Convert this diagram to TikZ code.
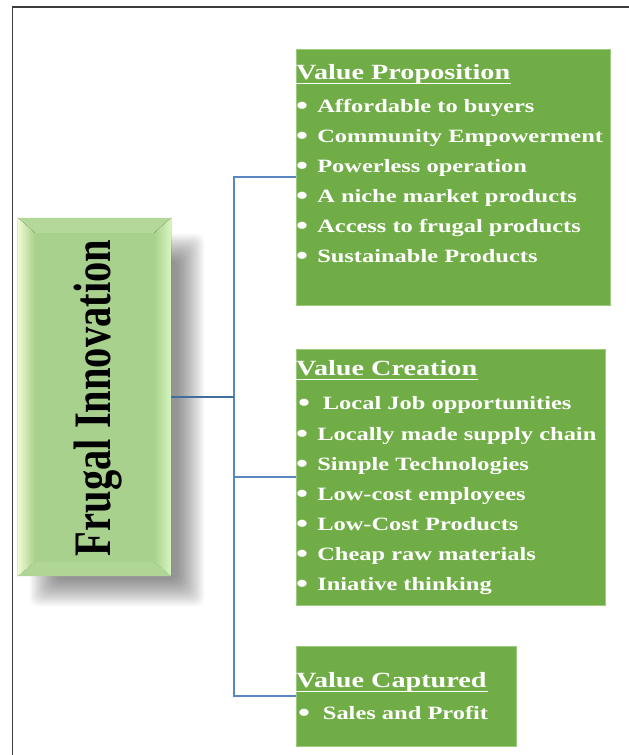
\documentclass[tikz,border=0pt]{standalone}
\usepackage{fontspec}
\setmainfont{Liberation Serif}
\usepackage{graphicx}
\usetikzlibrary{calc}
\definecolor{boxgreen}{HTML}{70AD47}
\definecolor{boxedge}{HTML}{9DCB7E}
\definecolor{maingreen}{HTML}{A9D18E}
\definecolor{topbevel}{HTML}{B3D89A}
\definecolor{paleleft}{HTML}{F0FBD2}
\definecolor{paleright}{HTML}{D8F6C0}
\definecolor{connblue}{HTML}{5B87C0}
\definecolor{conndark}{HTML}{3F6E9F}
\definecolor{framecol}{HTML}{3C3C3C}
\newcommand{\wtxt}[1]{\scalebox{1.3}[1]{#1}}
\newcommand{\bigbullet}{\raisebox{-2.4pt}{\scalebox{1.4}{\textbullet}}}
\newcommand{\bul}[1]{\bigbullet\hskip 7pt #1}
\newcommand{\bulw}[1]{\bigbullet\hskip 9.8pt #1}
\begin{document}
\begin{tikzpicture}[x=1pt,y=-1pt,
  greenbox/.style={draw=boxedge, line width=0.8pt, fill=boxgreen, rectangle, inner sep=0pt},
  titletxt/.style={anchor=base west, inner sep=0pt, text=white, font=\fontsize{21.7}{23}\selectfont\bfseries},
  itemtxt/.style={anchor=base west, inner sep=0pt, text=white, font=\fontsize{18.8}{20}\selectfont\bfseries},
  ul/.style={white, line width=1.6pt},
  conn/.style={connblue, line width=1.1pt},
  mainconn/.style={conndark, line width=1.4pt},
  shadowlayer/.style={fill=black, opacity=0.035, rounded corners=8pt}]
\useasboundingbox (0,0) rectangle (629,755);
\fill[white] (0,0) rectangle (629,755);
% frame lines
\draw[framecol, line width=1.5pt] (12.5,755) -- (12.5,7) -- (629,7);

% soft shadow of the main box
\foreach \i in {0,...,13} {
  \fill[shadowlayer] ({30+2*\i},{234+2*\i}) rectangle ({204-2*\i},{606-2*\i});
}

% main box
\node[rectangle, fill=maingreen, minimum width=153pt, minimum height=358pt, inner sep=0pt]
      (fi) at (94.5,397) {};
\coordinate (ia) at ($(fi.north west)+(17,15)$);
\coordinate (ib) at ($(fi.north east)+(-17,15)$);
\coordinate (ic) at ($(fi.south east)+(-17,-14)$);
\coordinate (id) at ($(fi.south west)+(17,-14)$);
\fill[topbevel] (fi.north west) -- (fi.north east) -- (ib) -- (ia) -- cycle;
\fill[left color=paleleft, right color=maingreen] (fi.north west) -- (ia) -- (id) -- (fi.south west) -- cycle;
\fill[left color=maingreen, right color=paleright] (fi.north east) -- (ib) -- (ic) -- (fi.south east) -- cycle;
\fill[topbevel!70!maingreen] (fi.south west) -- (id) -- (ic) -- (fi.south east) -- cycle;
\node[rotate=90, anchor=base, inner sep=0pt, text=black, font=\fontsize{40.5}{42}\selectfont\bfseries]
      (fit) at (110,398) {\scalebox{1}[1.3]{Frugal Innovation}};

% right boxes
\node[greenbox, minimum width=314pt, minimum height=256pt] (vp) at (453,177) {};
\node[greenbox, minimum width=309pt, minimum height=256pt] (vc) at (450.5,477) {};
\node[greenbox, minimum width=220pt, minimum height=100pt] (vcap) at (406,696) {};

% connectors
\coordinate (j) at (234,397);
\draw[conn] (vp.west) -- (vp.west -| j) -- (vcap.west -| j) -- (vcap.west);
\draw[conn] (vc.west) -- (vc.west -| j);
\draw[mainconn] (fi.east) -- (j);

% Value Proposition
\node[titletxt] (vpT) at (296,79) {\wtxt{Value Proposition}};
\draw[ul] ([yshift=-4.5pt]vpT.base west) -- ([yshift=-4.5pt,xshift=1pt]vpT.base east);
\node[itemtxt] (vp1) at (296,112) {\wtxt{\bul{Affordable to buyers}}};
\node[itemtxt] (vp2) at (296,142) {\wtxt{\bul{Community Empowerment}}};
\node[itemtxt] (vp3) at (296,172) {\wtxt{\bul{Powerless operation}}};
\node[itemtxt] (vp4) at (296,202) {\wtxt{\bul{A niche market products}}};
\node[itemtxt] (vp5) at (296,232) {\wtxt{\bul{Access to frugal products}}};
\node[itemtxt] (vp6) at (296,262) {\wtxt{\bul{Sustainable Products}}};

% Value Creation
\node[titletxt] (vcT) at (296,375) {\wtxt{Value Creation}};
\draw[ul] ([yshift=-4.5pt]vcT.base west) -- ([yshift=-4.5pt,xshift=1pt]vcT.base east);
\node[itemtxt] (vc1) at (298,409) {\wtxt{\bulw{Local Job opportunities}}};
\node[itemtxt] (vc2) at (296,440) {\wtxt{\bul{Locally made supply chain}}};
\node[itemtxt] (vc3) at (296,470) {\wtxt{\bul{Simple Technologies}}};
\node[itemtxt] (vc4) at (296,500) {\wtxt{\bul{Low-cost employees}}};
\node[itemtxt] (vc5) at (296,530) {\wtxt{\bul{Low-Cost Products}}};
\node[itemtxt] (vc6) at (296,560) {\wtxt{\bul{Cheap raw materials}}};
\node[itemtxt] (vc7) at (296,590) {\wtxt{\bul{Iniative thinking}}};

% Value Captured
\node[titletxt] (vcapT) at (296,687) {\wtxt{Value Captured}};
\draw[ul] ([yshift=-4.5pt]vcapT.base west) -- ([yshift=-4.5pt,xshift=1pt]vcapT.base east);
\node[itemtxt] (vcap1) at (298,719) {\wtxt{\bulw{Sales and Profit}}};
\end{tikzpicture}
\end{document}
